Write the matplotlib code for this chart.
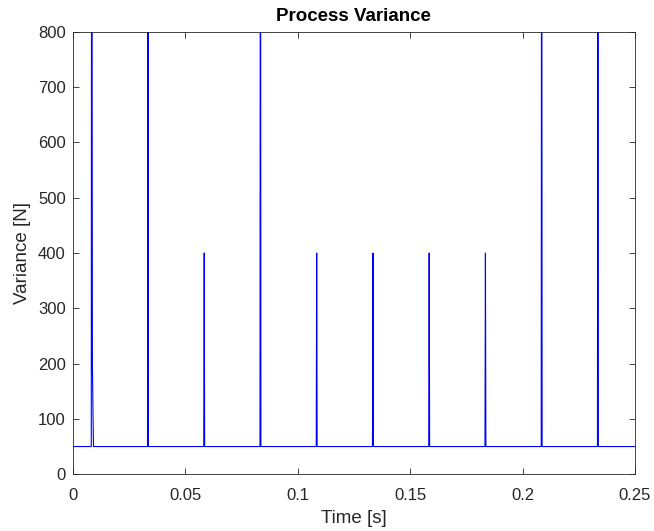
import numpy as np
import matplotlib.pyplot as plt

plt.rcParams['font.family'] = ['Liberation Sans', 'DejaVu Sans']

# Process variance: baseline with periodic spikes
t_start = 0.0
t_end = 0.25
baseline = 50.0

spike_t = [0.0085, 0.0335, 0.0585, 0.0835, 0.1085, 0.1335, 0.1585, 0.1835, 0.2085, 0.2335]
spike_v = [1600.0, 1600.0, 400.0, 1600.0, 400.0, 400.0, 400.0, 400.0, 1600.0, 1600.0]

# decay after the first spike
first_tail_t = [0.0088, 0.0091]
first_tail_v = [200.0, 100.0]

half_width = 0.0002

# build the polyline
t = [t_start]
v = [baseline]
for i, (ts, vs) in enumerate(zip(spike_t, spike_v)):
    t += [ts - half_width, ts]
    v += [baseline, vs]
    if i == 0:
        t += first_tail_t
        v += first_tail_v
        t += [first_tail_t[-1] + half_width]
        v += [baseline]
    else:
        t += [ts + half_width]
        v += [baseline]
t.append(t_end)
v.append(baseline)

fig = plt.figure(figsize=(6.54, 5.31), dpi=100)
ax = fig.add_axes([0.111, 0.107, 0.86, 0.833])

ax.plot(t, v, color=(0, 0, 1), linewidth=0.8)

ax.set_xlim(0, 0.25)
ax.set_ylim(0, 800)
ax.set_xticks([0, 0.05, 0.1, 0.15, 0.2, 0.25])
ax.set_xticklabels(['0', '0.05', '0.1', '0.15', '0.2', '0.25'])
ax.set_yticks(np.arange(0, 801, 100))

for s in ax.spines.values():
    s.set_color('0.15')
    s.set_linewidth(0.6)
ax.tick_params(direction='in', top=True, right=True, length=4, width=0.6,
               color='0.15', labelsize=12, labelcolor='0.15')
ax.tick_params(axis='x', pad=10)
ax.tick_params(axis='y', pad=5)

ax.set_xlabel('Time [s]', fontsize=13.5, color='0.15', labelpad=5)
ax.set_ylabel('Variance [N]', fontsize=13.5, color='0.15', labelpad=5)
ax.set_title('Process Variance', fontsize=13.5, fontweight='bold', pad=7.5)

fig.savefig('out.png', dpi=100)
